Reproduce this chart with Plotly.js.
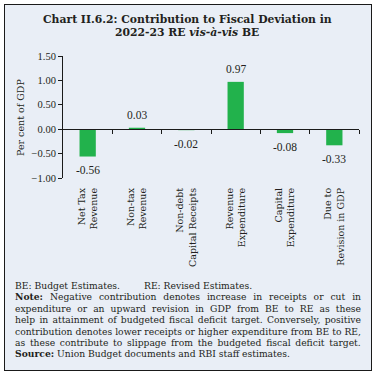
<!DOCTYPE html>
<html>
<head>
<meta charset="utf-8">
<script src="https://cdn.plot.ly/plotly-3.0.1.min.js"></script>
<style>
  html, body { margin:0; padding:0; background:#ffffff; }
  #frame { position:absolute; left:4px; top:4px; width:368px; height:367px; box-sizing:border-box;
           border:1.5px solid #1a1a1a; background:#e9eef6; }
  #chart { position:absolute; left:0; top:0; width:377px; height:376px; }
  .note { position:absolute; left:15px; width:346px; font-family:"DejaVu Serif", serif; font-size:9.2px;
          line-height:11.4px; color:#231f20; white-space:nowrap; }
  .just { text-align:justify; text-align-last:justify; word-spacing:-1px; }
</style>
</head>
<body>
<div id="frame"></div>
<div id="chart"></div>
<div id="notes"></div>
<script>
const categories = ['Net Tax<br>Revenue', 'Non-tax<br>Revenue', 'Non-debt<br>Capital Receipts',
                    'Revenue<br>Expenditure', 'Capital<br>Expenditure', 'Due to<br>Revision in GDP'];
const values = [-0.56, 0.03, -0.02, 0.97, -0.08, -0.33];
const yTicks = [-1.0, -0.5, 0.0, 0.5, 1.0, 1.5];
const titleLines = ['Chart II.6.2: Contribution to Fiscal Deviation in', '2022-23 RE <i>vis-à-vis</i> BE'];
const yTitle = 'Per cent of GDP';
const noteLines = [
  {html:'BE: Budget Estimates.<span style="display:inline-block;width:24px"></span>RE: Revised Estimates.', j:false},
  {html:'<b>Note:</b> Negative contribution denotes increase in receipts or cut in', j:true},
  {html:'expenditure or an upward revision in GDP from BE to RE as these', j:true},
  {html:'help in attainment of budgeted fiscal deficit target. Conversely, positive', j:true},
  {html:'contribution denotes lower receipts or higher expenditure from BE to RE,', j:true},
  {html:'as these contribute to slippage from the budgeted fiscal deficit target.', j:false, ws:'1.8px'},
  {html:'<b>Source:</b> Union Budget documents and RBI staff estimates.', j:false}
];

const serif = '"Liberation Serif", serif';
const wide = '"DejaVu Serif", serif';
const ink = '#231f20';

const bar = {
  type:'bar', x:categories, y:values, xaxis:'x', yaxis:'y',
  marker:{color:'#22b24c'}, hoverinfo:'skip'
};
// helper trace to carry the zero-line axis with boundary ticks
const zeroAxisTrace = {
  type:'scatter', x:[-0.5, 5.5], y:[0, 0], xaxis:'x2', yaxis:'y',
  mode:'lines', line:{width:0, color:'rgba(0,0,0,0)'}, hoverinfo:'skip', showlegend:false
};

const annotations = values.map((v, i) => ({
  x: categories[i], y: v, xref:'x', yref:'y', text: v.toFixed(2), showarrow:false,
  yanchor:'middle', yshift: v >= 0 ? 13 : -13.5,
  font:{family:serif, size:11.5, color:ink}
}));
annotations.push({
  xref:'paper', yref:'paper', x:-0.145, y:0.5, text:yTitle, textangle:-90, showarrow:false,
  xanchor:'center', yanchor:'middle', font:{family:wide, size:9.5, color:ink}
});
annotations.push({
  xref:'paper', yref:'paper', x:0.42, y:(178-20)/122, text:'<b>'+titleLines[0]+'</b>', showarrow:false,
  xanchor:'center', yanchor:'middle', font:{family:wide, size:10.8, color:ink}
});
annotations.push({
  xref:'paper', yref:'paper', x:0.42, y:(178-33)/122, text:'<b>'+titleLines[1]+'</b>', showarrow:false,
  xanchor:'center', yanchor:'middle', font:{family:wide, size:10.8, color:ink}
});

const layout = {
  width:377, height:376,
  margin:{l:63, r:18, t:56, b:198, pad:0},
  paper_bgcolor:'rgba(0,0,0,0)', plot_bgcolor:'rgba(0,0,0,0)',
  showlegend:false, bargap:0.67,
  xaxis:{type:'category', showline:false, ticks:'', tickangle:-90, showgrid:false, zeroline:false,
         tickfont:{family:wide, size:9.5, color:ink}, ticklabelstandoff:7, fixedrange:true},
  xaxis2:{overlaying:'x', anchor:'free', position:0.4, range:[-0.5, 5.5], showgrid:false, zeroline:false,
          showline:true, linecolor:'#1a1a1a', linewidth:1, ticks:'outside', ticklen:4, tickwidth:1,
          tickcolor:'#1a1a1a', tickvals:[0.5,1.5,2.5,3.5,4.5,5.5], showticklabels:false, side:'bottom'},
  yaxis:{range:[-1.0, 1.5], tickvals:yTicks, tickformat:'.2f', showline:true, linecolor:'#1a1a1a',
         linewidth:1, ticks:'outside', ticklen:4, tickcolor:'#1a1a1a', showgrid:false, zeroline:false,
         tickfont:{family:serif, size:10.5, color:ink}},
  annotations: annotations
};

Plotly.newPlot('chart', [bar, zeroAxisTrace], layout, {displayModeBar:false, staticPlot:true});

const notes = document.getElementById('notes');
noteLines.forEach((ln, i) => {
  const d = document.createElement('div');
  d.className = 'note' + (ln.j ? ' just' : '');
  d.style.top = (280 + i*11.4) + 'px';
  d.innerHTML = ln.html;
  if (ln.ws) d.style.wordSpacing = ln.ws;
  notes.appendChild(d);
});
</script>
</body>
</html>
